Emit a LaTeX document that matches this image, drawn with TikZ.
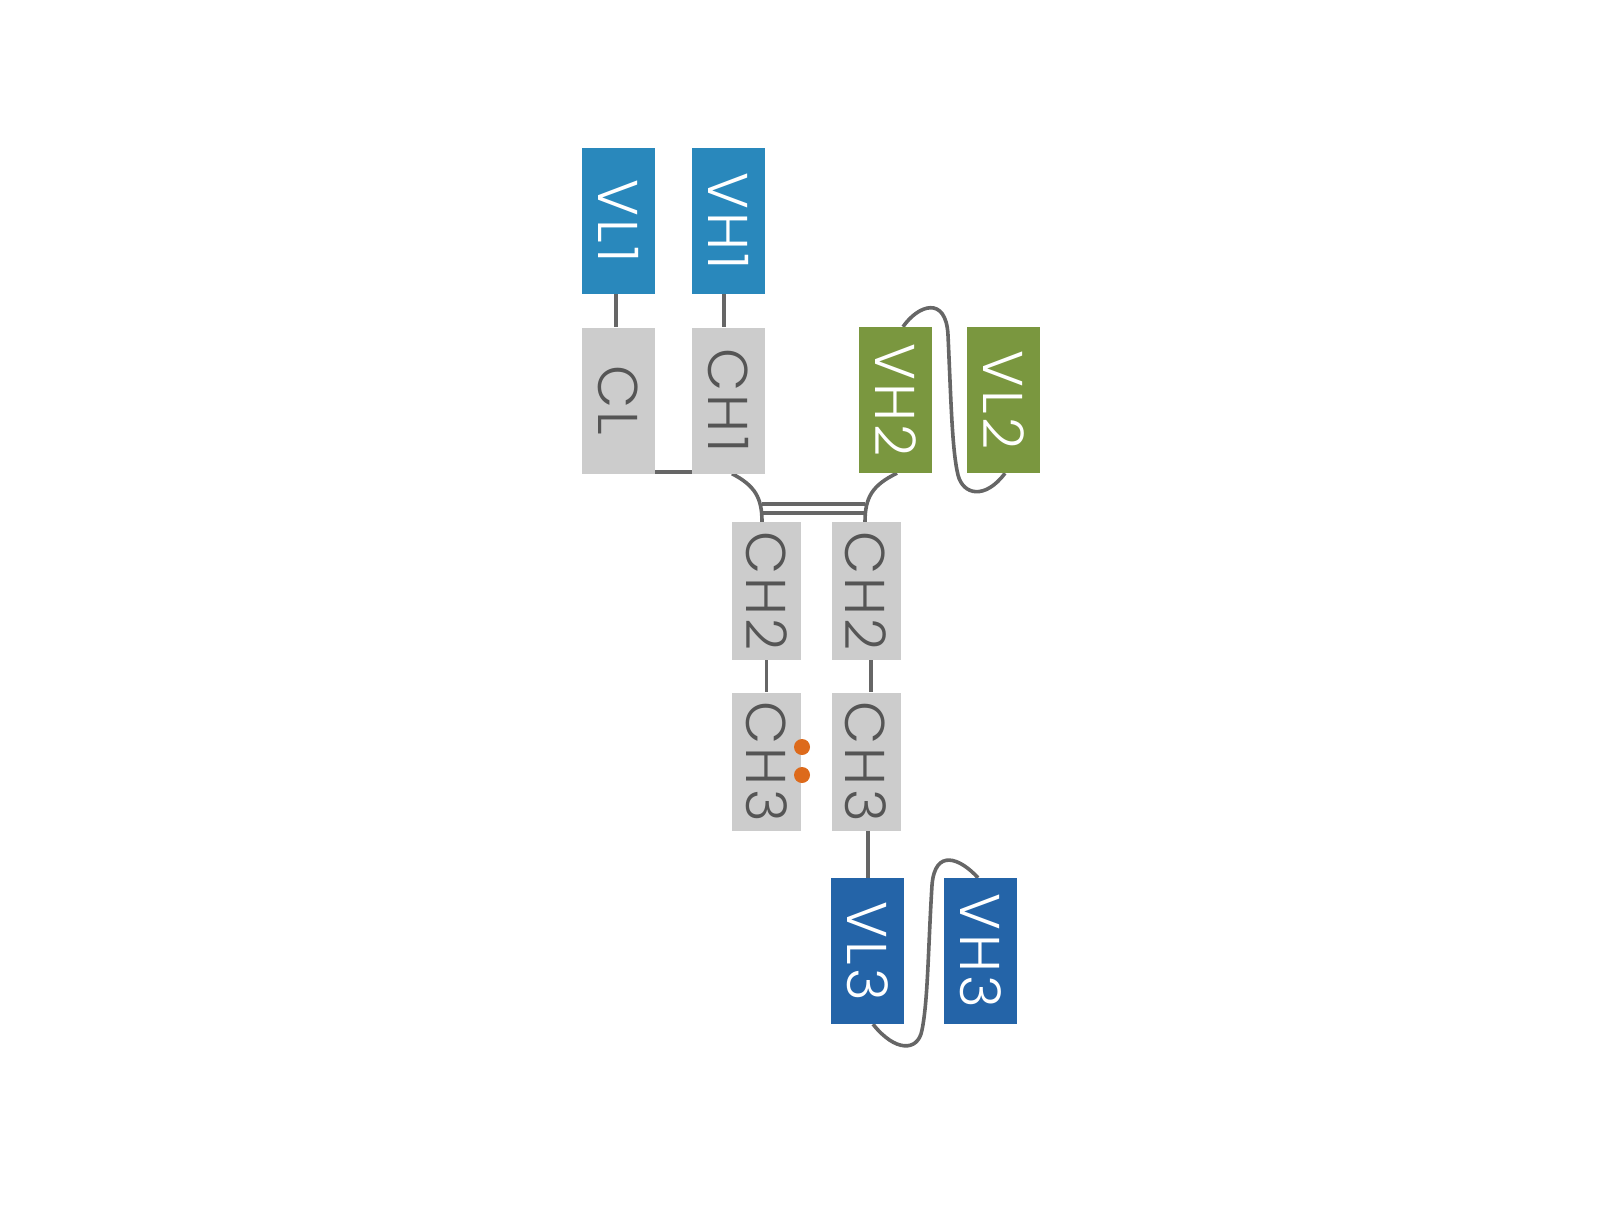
\documentclass[tikz,border=0pt]{standalone}
\usepackage{fontspec}
\usepackage{graphicx}
\IfFontExistsTF{Poppins Light}{\setmainfont{Poppins Light}[LetterSpace=6]}{\setmainfont{Poppins}[LetterSpace=6]}
\usetikzlibrary{backgrounds}
\definecolor{vblue}{HTML}{2988BC}
\definecolor{vgreen}{HTML}{7A973F}
\definecolor{vdblue}{HTML}{2464A8}
\definecolor{cgray}{HTML}{CCCCCC}
\definecolor{tgray}{HTML}{555555}
\definecolor{lgray}{HTML}{666666}
\definecolor{dorange}{HTML}{DD6A1B}
\tikzset{
  dom/.style={inner sep=0pt, minimum width=73pt, minimum height=146pt, font=\fontsize{56}{56}\selectfont},
  vbox/.style={dom, fill=#1, text=white},
  cbox/.style={dom, fill=cgray, text=tgray},
  cbox2/.style={cbox, minimum width=69pt, minimum height=138pt},
  link/.style={draw=lgray, line width=3.6pt},
  sdot/.style={circle, fill=dorange, inner sep=0pt, minimum size=16pt}
}
\begin{document}
\begin{tikzpicture}[x=1pt,y=-1pt]
\useasboundingbox (0,0) rectangle (1622,1205);
\node[vbox=vblue] (VL1) at (618.5,221) {\rotatebox{-90}{VL1}};
\node[vbox=vblue] (VH1) at (728.5,221) {\rotatebox{-90}{VH1}};
\node[cbox] (CL) at (618.5,400.5) {\rotatebox{-90}{CL}};
\node[cbox] (CH1) at (728.5,400.5) {\rotatebox{-90}{CH1}};
\node[vbox=vgreen] (VH2) at (895.5,400) {\rotatebox{-90}{VH2}};
\node[vbox=vgreen] (VL2) at (1003.5,400) {\rotatebox{-90}{VL2}};
\node[cbox2] (CH2L) at (766.5,591) {\rotatebox{-90}{CH2}};
\node[cbox2] (CH2R) at (866,591) {\rotatebox{-90}{CH2}};
\node[cbox2] (CH3L) at (766.5,761.5) {\rotatebox{-90}{CH3}};
\node[cbox2] (CH3R) at (866,761.5) {\rotatebox{-90}{CH3}};
\node[vbox=vdblue] (VL3) at (867.5,951) {\rotatebox{-90}{VL3}};
\node[vbox=vdblue] (VH3) at (980.5,951) {\rotatebox{-90}{VH3}};
\node[sdot] (d1) at (802,747) {};
\node[sdot] (d2) at (802,775) {};
\begin{scope}[on background layer]
\draw[link] ([xshift=-2.5pt]VL1.south) -- ([xshift=-2.5pt]CL.north);
\draw[link] ([xshift=-4.5pt]VH1.south) -- ([xshift=-4.5pt]CH1.north);
\draw[link] ([xshift=24.5pt,yshift=1.5pt]CL.south) -- ([yshift=1.5pt]CH1.south west);
\draw[link] ([xshift=3.5pt]CH1.south) .. controls +(23,12) and +(0,-24) .. ([xshift=-4.5pt]CH2L.north);
\draw[link] ([xshift=1.5pt]VH2.south) .. controls +(-25,12) and +(0,-24) .. ([xshift=-1pt]CH2R.north);
\draw[link] ([xshift=-4.5pt,yshift=18pt]CH2L.north) -- ([xshift=-1pt,yshift=18pt]CH2R.north);
\draw[link] ([xshift=-4.5pt,yshift=9pt]CH2L.north) -- ([xshift=-1pt,yshift=9pt]CH2R.north);
\draw[link] (CH2L.south) -- (CH3L.north);
\draw[link] ([xshift=5pt]CH2R.south) -- ([xshift=5pt]CH3R.north);
\draw[link] ([xshift=2pt]CH3R.south) -- ([xshift=0.5pt]VL3.north);
\draw[link] ([xshift=7.5pt]VH2.north) .. controls (918,305) and (946,295) .. (948,335)
  .. controls (951,400) and (952,450) .. (958,475)
  .. controls (963,495) and (985,500) .. ([xshift=1.5pt]VL2.south);
\draw[link] ([xshift=-2.5pt]VH3.north) .. controls (960,858) and (935,848) .. (932,885)
  .. controls (928,950) and (928,1000) .. (922,1030)
  .. controls (918,1052) and (895,1052) .. ([xshift=5.5pt]VL3.south);
\end{scope}
\end{tikzpicture}
\end{document}
